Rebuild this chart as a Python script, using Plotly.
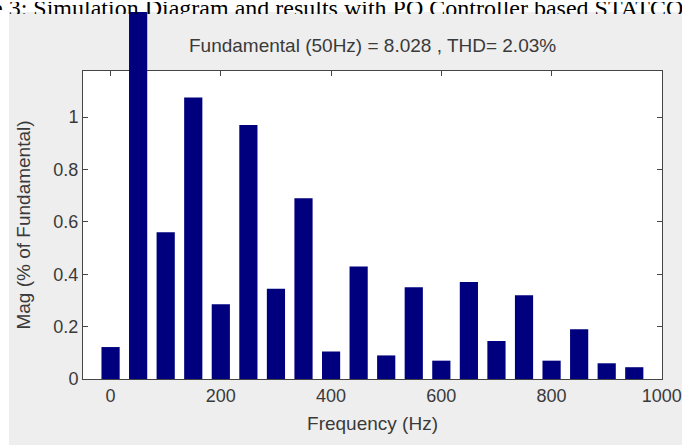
import plotly.graph_objects as go

# ---- data ----
freqs = [0, 50, 100, 150, 200, 250, 300, 350, 400, 450, 500, 550, 600, 650, 700, 750, 800, 850, 900, 950]
mags = [0.122, 100, 0.56, 1.075, 0.285, 0.97, 0.345, 0.69, 0.105, 0.43,
        0.09, 0.35, 0.07, 0.37, 0.145, 0.32, 0.07, 0.19, 0.06, 0.045]
x_ticks = [0, 200, 400, 600, 800, 1000]
y_ticks = [0, 0.2, 0.4, 0.6, 0.8, 1]
y_tick_text = ["0", "0.2", "0.4", "0.6", "0.8", "1"]
title_text = "Fundamental (50Hz) = 8.028 , THD= 2.03%"
caption_text = "Figure 3: Simulation Diagram and results with PQ Controller based STATCOM"

# ---- layout geometry (pixels) ----
W, H = 682, 445
L, R = 83, 662          # plot left/right
B = 379                 # plot bottom
T_FRAME = 71            # axes box top
T_GRAY = 12             # top of grey figure area
GRAY_LEFT = 9
plot_w = R - L
plot_h = B - T_GRAY
frame_top = (B - T_FRAME) / plot_h
y_max = 1.176
x_range = [-50, 1000.3]

def px(xp):
    return (xp - L) / plot_w

def py(yp):
    return (B - yp) / plot_h

FONT = "Liberation Sans, Arial, sans-serif"
TXT = "#3a3a3a"
AX = "#454545"

fig = go.Figure()
# empty trace so that the framed axes (x, y) are drawn
fig.add_trace(go.Scatter(x=[None], y=[None], xaxis="x", yaxis="y",
                         mode="markers", hoverinfo="skip", showlegend=False))
fig.add_trace(go.Bar(
    x=freqs, y=mags, width=33, xaxis="x2", yaxis="y2",
    marker=dict(color="#00007f", line=dict(width=0)),
    hoverinfo="x+y",
))

fig.update_layout(
    width=W, height=H,
    margin=dict(l=L, r=W - R, t=T_GRAY, b=H - B, pad=0, autoexpand=False),
    paper_bgcolor="white",
    plot_bgcolor="rgba(0,0,0,0)",
    showlegend=False,
    font=dict(family=FONT, color=TXT, size=18),
    xaxis=dict(
        domain=[0, 1], range=x_range, anchor="y", automargin=False,
        tickvals=x_ticks, ticks="inside", ticklen=5, tickcolor=AX,
        showline=True, linecolor=AX, linewidth=1, mirror="ticks",
        showgrid=False, zeroline=False,
        tickfont=dict(size=18, color=TXT),
        title=dict(text="Frequency (Hz)", font=dict(size=19, color=TXT), standoff=12),
    ),
    yaxis=dict(
        domain=[0, frame_top], range=[0, y_max], anchor="x", automargin=False,
        tickvals=y_ticks, ticktext=y_tick_text, ticks="inside", ticklen=5, tickcolor=AX,
        showline=True, linecolor=AX, linewidth=1, mirror="ticks",
        showgrid=False, zeroline=False,
        tickfont=dict(size=18, color=TXT),
        title=dict(text="Mag (% of Fundamental)", font=dict(size=19, color=TXT), standoff=17),
    ),
    xaxis2=dict(domain=[0, 1], range=x_range, anchor="y2", visible=False, automargin=False),
    yaxis2=dict(domain=[0, 1], range=[0, y_max / frame_top], anchor="x2", visible=False,
                automargin=False),
    shapes=[
        dict(type="rect", xref="paper", yref="paper", layer="below",
             x0=px(GRAY_LEFT), x1=px(W), y0=py(H), y1=py(T_GRAY),
             fillcolor="#eeeeee", line=dict(width=0)),
        dict(type="rect", xref="paper", yref="paper", layer="below",
             x0=0, x1=1, y0=0, y1=frame_top,
             fillcolor="white", line=dict(width=0)),
    ],
    annotations=[
        dict(text=title_text, xref="paper", yref="paper",
             x=0.5, y=py(45), xanchor="center", yanchor="middle",
             showarrow=False, font=dict(size=19, color=TXT, family=FONT)),
        dict(text=caption_text, xref="paper", yref="paper",
             x=px(-62), y=py(0), xanchor="left", yanchor="top",
             height=12, width=800, valign="middle", align="left",
             showarrow=False,
             font=dict(size=24, color="black", family="Liberation Serif, Times New Roman, serif")),
    ],
)

fig.write_html("out.html", config={"displayModeBar": False},
               post_script="document.body.style.margin='0px';")
